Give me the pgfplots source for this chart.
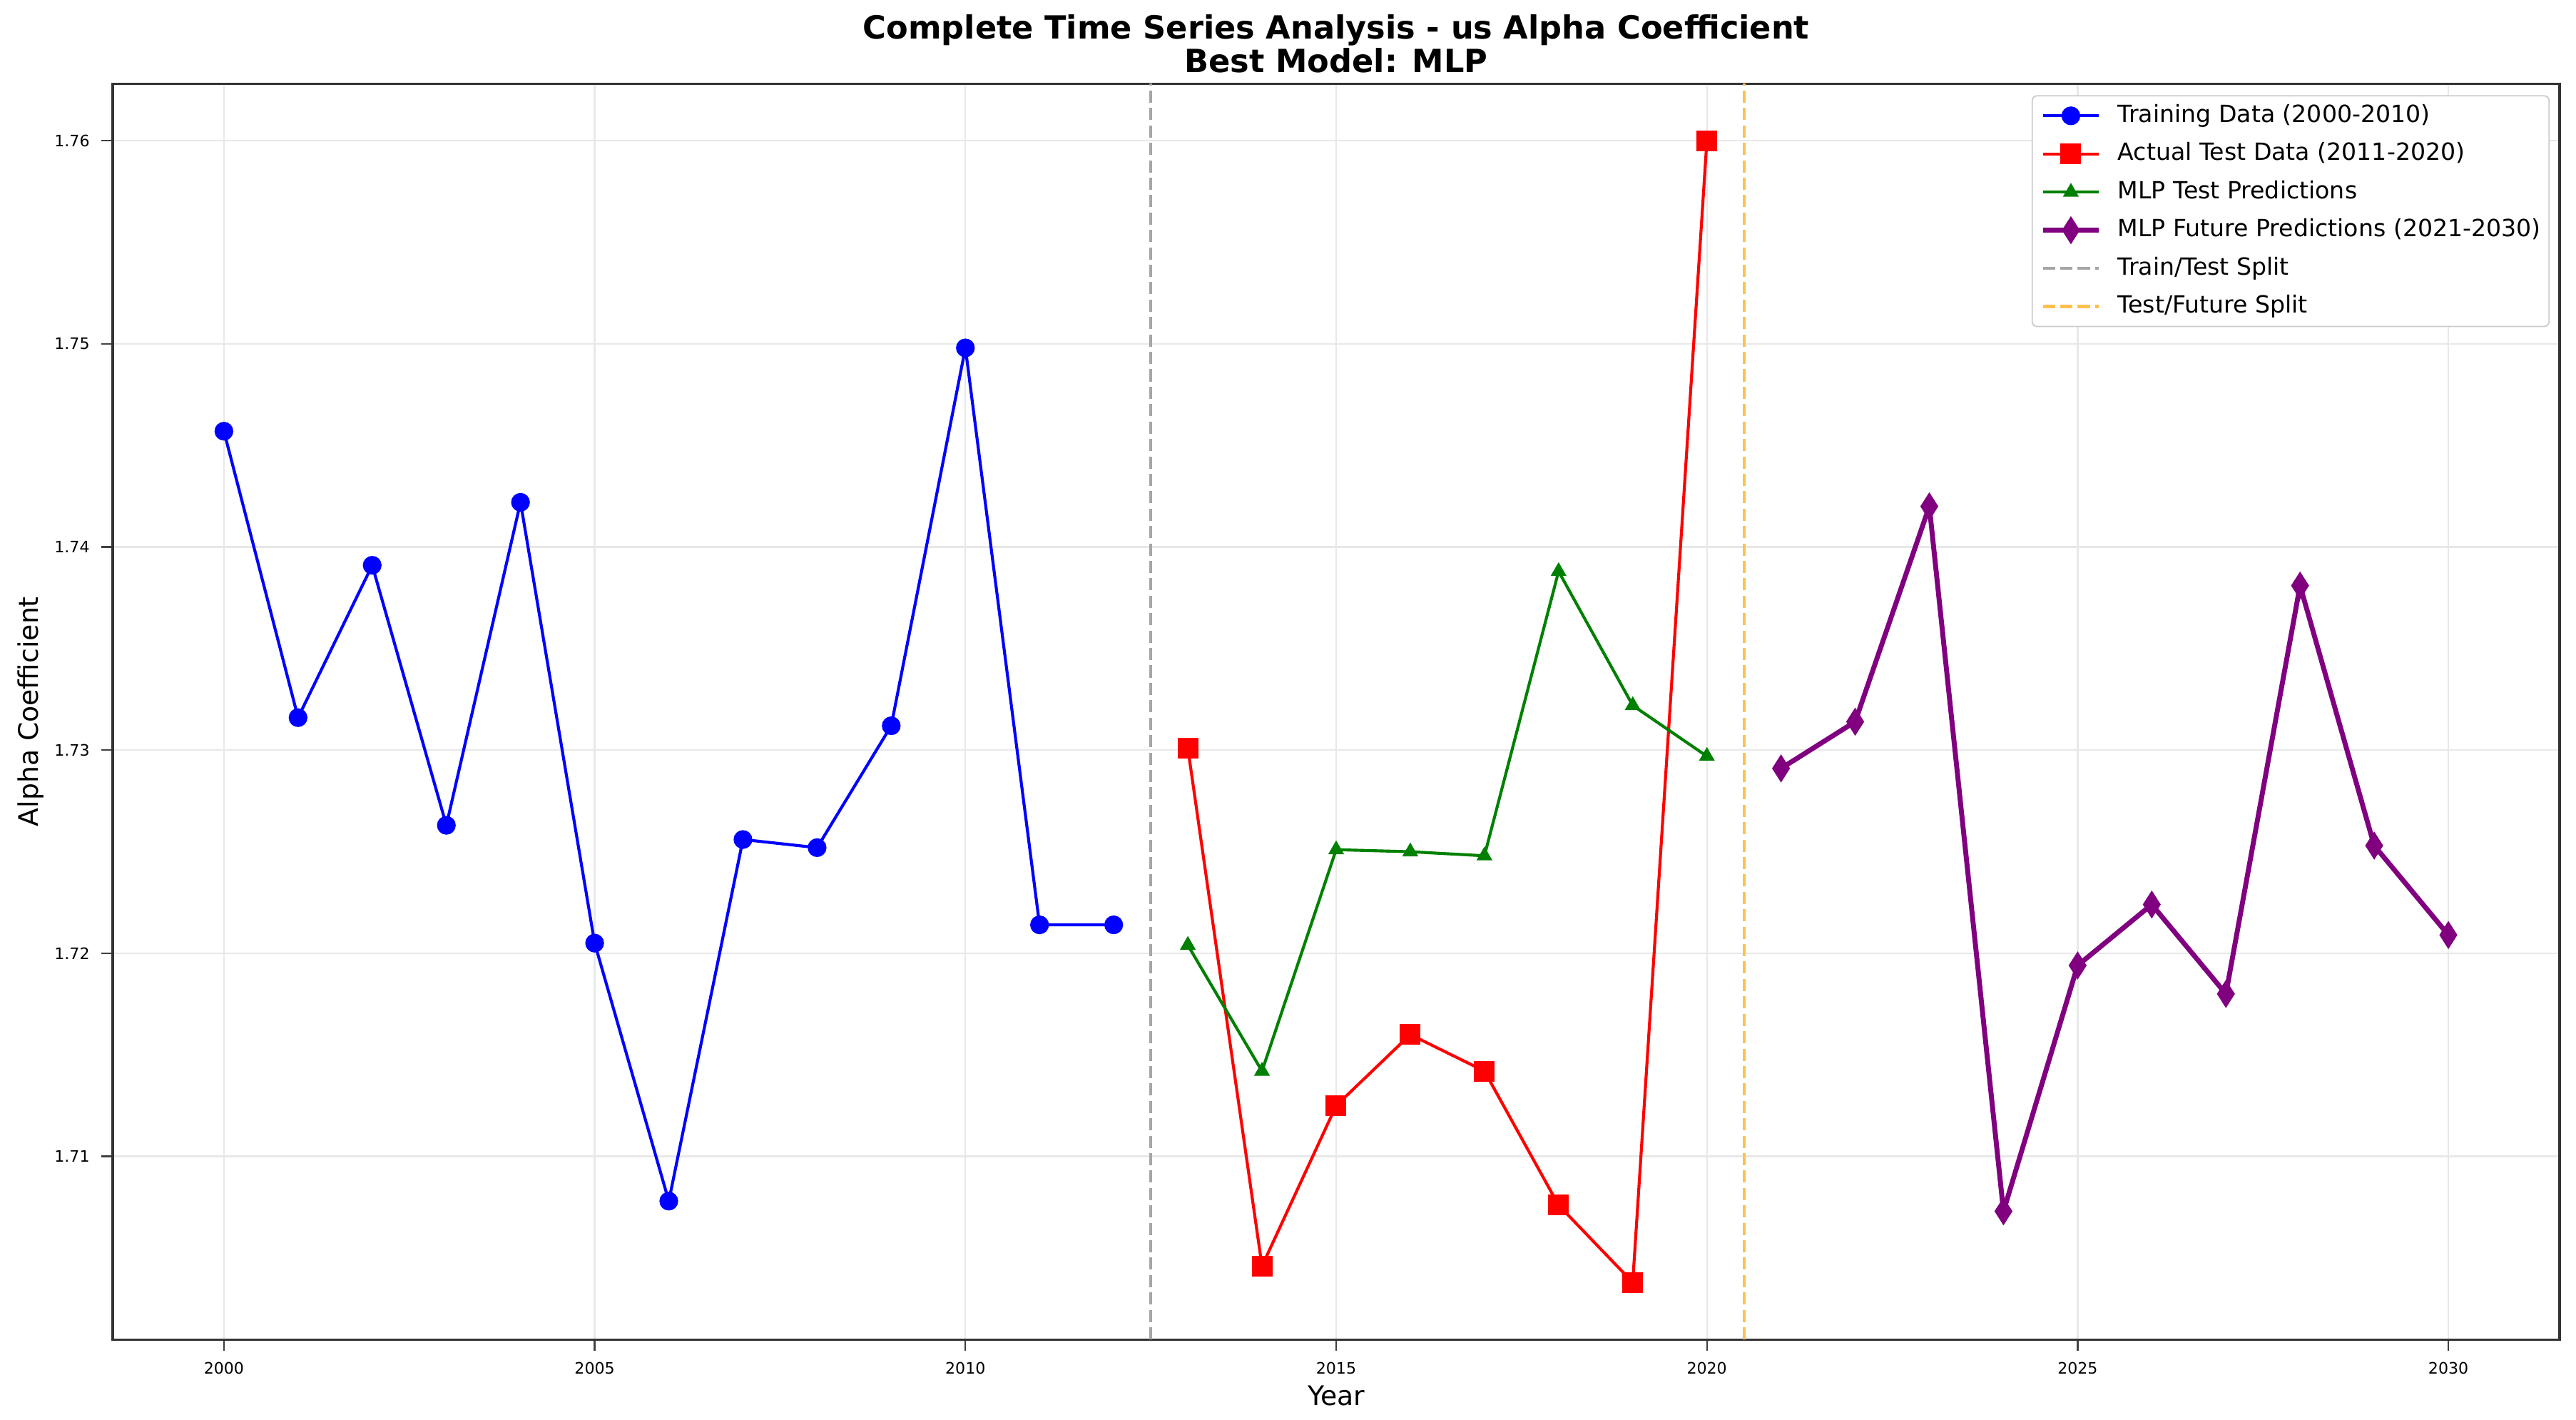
\documentclass[border=0pt]{standalone}
\usepackage{fontspec}
\setmainfont{DejaVu Sans}
\usepackage{pgfplots}
\pgfplotsset{compat=1.18}
\definecolor{mplgreen}{RGB}{0,128,0}
\definecolor{mplpurple}{RGB}{128,0,128}
\definecolor{splitgray}{RGB}{166,166,166}
\definecolor{splitorange}{RGB}{255,192,77}
\definecolor{gridc}{RGB}{232,232,232}
\begin{document}
\begin{tikzpicture}
\useasboundingbox (0,0) rectangle (784pt,431.85pt);
\begin{axis}[
  at={(34.3pt,24.3pt)}, anchor=south west,
  width=744.7pt, height=382.1pt, scale only axis,
  xmin=1998.5, xmax=2031.5, ymin=1.70099, ymax=1.76281,
  xtick={2000,2005,2010,2015,2020,2025,2030},
  ytick={1.71,1.72,1.73,1.74,1.75,1.76},
  xtick pos=bottom, ytick pos=left,
  tick align=outside, major tick length=3.5pt,
  tick style={black!75, line width=0.5pt},
  axis line style={black!80, line width=0.7pt},
  grid=major, major grid style={gridc, line width=0.5pt},
  x tick label style={/pgf/number format/1000 sep={}},
  y tick label style={/pgf/number format/.cd, fixed, fixed zerofill, precision=2},
  /pgf/number format/assume math mode=true,
  tick label style={font=\fontsize{4.8}{5.5}\selectfont, black},
  title={Complete Time Series Analysis - us Alpha Coefficient\\Best Model: MLP},
  title style={font=\bfseries\fontsize{9.7}{10.3}\selectfont, align=center, yshift=-6.3pt},
  xlabel={Year},
  ylabel={Alpha Coefficient},
  label style={font=\fontsize{8.2}{9.5}\selectfont},
  xlabel style={at={(axis description cs:0.5,-0.0523)}, anchor=base},
  ylabel style={at={(axis description cs:-0.0306,0.5)}, rotate=0, anchor=base},
  legend cell align=left,
  legend style={at={(axis description cs:1,1)}, anchor=north east, xshift=-3pt, yshift=-3.5pt,
    draw=black!20, rounded corners=1.5pt, fill=white, inner sep=2.5pt,
    font=\fontsize{7.2}{8}\selectfont, row sep=4.4pt, column sep=5pt,
    nodes={inner sep=0pt, text height=5.6pt, text depth=1.6pt}},
]
\addplot[blue, line width=0.9pt, mark=*, mark size=2.4pt] coordinates {
 (2000,1.7457) (2001,1.7316) (2002,1.7391) (2003,1.7263) (2004,1.7422)
 (2005,1.7205) (2006,1.7078) (2007,1.7256) (2008,1.7252) (2009,1.7312)
 (2010,1.7498) (2011,1.7214) (2012,1.7214)};
\addlegendentry{Training Data (2000-2010)}
\addplot[red, line width=0.9pt, mark=square*, mark size=2.7pt] coordinates {
 (2013,1.7301) (2014,1.7046) (2015,1.7125) (2016,1.7160) (2017,1.7142)
 (2018,1.7076) (2019,1.7038) (2020,1.7600)};
\addlegendentry{Actual Test Data (2011-2020)}
\addplot[mplgreen, line width=0.9pt, mark=triangle*, mark size=1.9pt] coordinates {
 (2013,1.7204) (2014,1.7142) (2015,1.7251) (2016,1.7250) (2017,1.7248)
 (2018,1.7388) (2019,1.7322) (2020,1.7297)};
\addlegendentry{MLP Test Predictions}
\addplot[mplpurple, line width=1.5pt, mark=diamond*, mark size=2.9pt, mark options={xscale=0.85}] coordinates {
 (2021,1.7291) (2022,1.7314) (2023,1.7420) (2024,1.7073) (2025,1.7194)
 (2026,1.7224) (2027,1.7180) (2028,1.7381) (2029,1.7253) (2030,1.7209)};
\addlegendentry{MLP Future Predictions (2021-2030)}
\addplot[splitgray, line width=0.9pt, dash pattern=on 3.7pt off 1.6pt] coordinates {(2012.5,1.70099) (2012.5,1.76281)};
\addlegendentry{Train/Test Split}
\addplot[splitorange, line width=0.9pt, dash pattern=on 3.7pt off 1.6pt] coordinates {(2020.5,1.70099) (2020.5,1.76281)};
\addlegendentry{Test/Future Split}
\end{axis}
\end{tikzpicture}
\end{document}
